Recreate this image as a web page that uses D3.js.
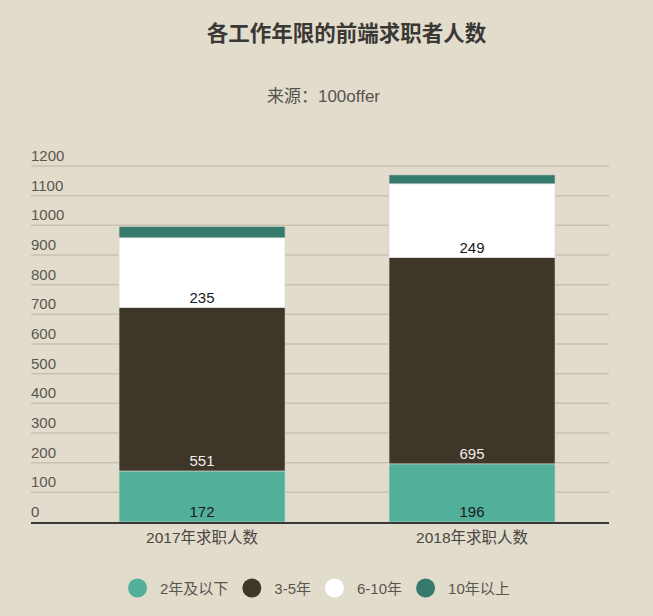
<!DOCTYPE html>
<html><head><meta charset="utf-8">
<script src="https://cdn.jsdelivr.net/npm/d3@7"></script>
<style>
html,body{margin:0;padding:0;background:#e2dccd;}
svg{display:block;font-family:"Liberation Sans","Noto Sans CJK SC",sans-serif;}
</style></head><body>
<svg id="c" width="653" height="616"></svg>
<script>
const categories = ["2017年求职人数", "2018年求职人数"];
const seriesNames = ["2年及以下", "3-5年", "6-10年", "10年以上"];
const s2orLess = [172, 196];
const s3to5 = [551, 695];
const s6to10 = [235, 249];
const s10plus = [38, 30];
const yTicks = [0, 100, 200, 300, 400, 500, 600, 700, 800, 900, 1000, 1100, 1200];
const seriesValues = [s2orLess, s3to5, s6to10, s10plus];
const colors = ["#52b09a", "#3d3629", "#ffffff", "#357a6a"];
const labelColors = ["#1a1a1a", "#f0ede6", "#1a1a1a", null];

const svg = d3.select("#c");
const bg = "#e2dccd";
svg.append("rect").attr("width",653).attr("height",616).attr("fill",bg);

const x = d3.scaleBand().domain(categories).range([31, 609])
  .paddingInner(0.3852).paddingOuter(0.263).align(0.62);
const y = d3.scaleLinear().domain([0, 1200]).range([522, 166]);

// title
svg.append("text").attr("x", 346.5).attr("y", 41).attr("text-anchor","middle")
  .attr("font-size", 21.5).attr("font-weight","bold").attr("fill","#3a3834")
  .text("各工作年限的前端求职者人数");
svg.append("text").attr("x", 323.5).attr("y", 102).attr("text-anchor","middle")
  .attr("font-size", 17).attr("fill","#57534c")
  .text("来源：100offer");

// grid
const grid = svg.append("g");
grid.selectAll("line").data(yTicks.filter(d=>d>0)).join("line")
  .attr("x1", 31).attr("x2", 609)
  .attr("y1", d=>y(d)).attr("y2", d=>y(d))
  .attr("stroke", "#c9c0b1").attr("stroke-width", 1.5);
grid.selectAll("text").data(yTicks).join("text")
  .attr("x", 31).attr("y", d=>y(d)-5)
  .attr("font-size", 15).attr("fill","#5a564f")
  .text(d=>d);

// stacked data
const table = categories.map((c,i)=>{
  const o = {cat:c};
  seriesNames.forEach((s,j)=>o[s]=seriesValues[j][i]);
  return o;
});
const stack = d3.stack().keys(seriesNames)(table);

const layers = svg.append("g").selectAll("g").data(stack).join("g")
  .attr("fill",(d,i)=>colors[i]);
layers.selectAll("rect").data(d=>d).join("rect")
  .attr("x", d=>x(d.data.cat)).attr("width", x.bandwidth())
  .attr("y", d=>y(d[1])).attr("height", d=>y(d[0])-y(d[1]))
  .attr("stroke","#d8d4cc").attr("stroke-width",0.6);

// labels at inside bottom
stack.forEach((layer,i)=>{
  if(!labelColors[i]) return;
  svg.append("g").selectAll("text").data(layer).join("text")
    .attr("x", d=>x(d.data.cat)+x.bandwidth()/2)
    .attr("y", d=>y(d[0])-5)
    .attr("text-anchor","middle").attr("font-size",15)
    .attr("fill", labelColors[i])
    .text(d=>d[1]-d[0]);
});

// x axis
svg.append("line").attr("x1",31).attr("x2",609).attr("y1",y(0)+1).attr("y2",y(0)+1)
  .attr("stroke","#3b3935").attr("stroke-width",2.2);
svg.append("g").selectAll("text").data(categories).join("text")
  .attr("x", d=>x(d)+x.bandwidth()/2).attr("y", 543)
  .attr("text-anchor","middle").attr("font-size",15.5).attr("fill","#4a4741")
  .text(d=>d);

// legend
const lg = svg.append("g");
let lx = 128;
seriesNames.forEach((s,i)=>{
  lg.append("circle").attr("cx", lx+9.5).attr("cy", 588).attr("r", 9.5)
    .attr("fill", colors[i]);
  const t = lg.append("text").attr("x", lx+32).attr("y", 593.5)
    .attr("font-size",15).attr("fill","#5a564f").text(s);
  lx = lx + 32 + t.node().getComputedTextLength() + 14;
});
</script>
</body></html>
